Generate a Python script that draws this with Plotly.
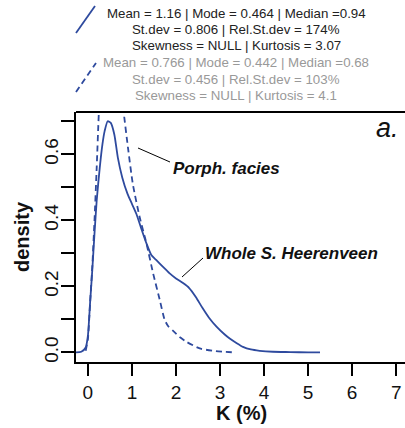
import plotly.graph_objects as go

# K (%) density curves
whole_x = [-0.28, -0.15, -0.05, 0.0, 0.05, 0.1, 0.15, 0.2, 0.27, 0.33, 0.38, 0.45, 0.52,
           0.6, 0.68, 0.78, 0.9, 1.0, 1.1, 1.2, 1.33, 1.44, 1.55, 1.7, 1.85, 2.0, 2.16,
           2.3, 2.45, 2.6, 2.75, 2.92, 3.1, 3.22, 3.38, 3.52, 3.7, 3.9, 4.2, 4.6, 5.0, 5.27]
whole_y = [0.0, 0.002, 0.015, 0.05, 0.15, 0.25, 0.36, 0.46, 0.56, 0.63, 0.67, 0.70, 0.695,
           0.66, 0.59, 0.53, 0.48, 0.45, 0.42, 0.38, 0.33, 0.295, 0.28, 0.26, 0.24, 0.224, 0.21,
           0.195, 0.168, 0.135, 0.105, 0.078, 0.055, 0.042, 0.028, 0.017, 0.009, 0.005, 0.002,
           0.001, 0.0, 0.0]

porph_x = [-0.05, 0.0, 0.05, 0.1, 0.15, 0.2, 0.25, 0.32, 0.44, 0.55, 0.68, 0.81, 0.91, 1.02,
           1.175, 1.33, 1.48, 1.63, 1.74, 1.82, 1.93, 2.1, 2.24, 2.54, 2.9, 3.33]
porph_y = [0.005, 0.04, 0.15, 0.26, 0.4, 0.56, 0.73, 0.9, 1.02, 1.0, 0.88, 0.73, 0.62, 0.51,
           0.41, 0.33, 0.24, 0.16, 0.1, 0.08, 0.066, 0.045, 0.032, 0.012, 0.004, 0.0]

whole_stats = ["Mean = 1.16 | Mode = 0.464 | Median =0.94",
               "St.dev = 0.806 | Rel.St.dev = 174%",
               "Skewness = NULL | Kurtosis = 3.07"]
porph_stats = ["Mean = 0.766 | Mode = 0.442 | Median =0.68",
               "St.dev = 0.456 | Rel.St.dev = 103%",
               "Skewness = NULL | Kurtosis = 4.1"]

x_ticks = [0, 1, 2, 3, 4, 5, 6, 7]
y_ticks = [0.0, 0.1, 0.2, 0.3, 0.4, 0.5, 0.6, 0.7]
y_labels = ["0.0", "", "0.2", "", "0.4", "", "0.6", ""]

BLUE = "#2E4A9E"
FONT = "Arial, Liberation Sans, Helvetica, sans-serif"

W, H = 405, 428
L, R, T, B = 76, 0, 112, 66


def px_x(p):
    return (p - L) / (W - L - R)


def px_y(p):
    return (H - B - p) / (H - T - B)


fig = go.Figure()
fig.add_trace(go.Scatter(x=whole_x, y=whole_y, mode="lines",
                         line=dict(color=BLUE, width=1.8, shape="spline", smoothing=0.6)))
fig.add_trace(go.Scatter(x=porph_x, y=porph_y, mode="lines",
                         line=dict(color=BLUE, width=1.8, shape="spline", smoothing=0.6,
                                   dash="6px,4px")))

fig.update_xaxes(range=[-0.27, 7.2], tickvals=x_ticks, ticks="outside", ticklen=12,
                 tickwidth=1.5, tickcolor="black", showline=True, linecolor="black",
                 linewidth=1.8, showgrid=False, zeroline=False,
                 tickfont=dict(family=FONT, size=19, color="#111"))
fig.update_yaxes(range=[-0.029, 0.728], tickvals=y_ticks, ticktext=y_labels,
                 ticks="outside", ticklen=13, tickwidth=1.5, tickcolor="black",
                 showline=True, linecolor="black", linewidth=1.8, showgrid=False,
                 zeroline=False, tickangle=-90, ticklabelstandoff=-4,
                 tickfont=dict(family=FONT, size=19, color="#111"))

shapes = [
    # top frame line
    dict(type="line", xref="paper", yref="paper", x0=0, x1=1, y0=1, y1=1,
         line=dict(color="black", width=1.8)),
    # legend keys
    dict(type="line", xref="paper", yref="paper", x0=px_x(76), y0=px_y(33),
         x1=px_x(95), y1=px_y(6), line=dict(color=BLUE, width=1.8)),
    dict(type="line", xref="paper", yref="paper", x0=px_x(76), y0=px_y(92),
         x1=px_x(96), y1=px_y(63), line=dict(color=BLUE, width=1.8, dash="6px,4px")),
    # leader lines
    dict(type="line", xref="paper", yref="paper", x0=px_x(138), y0=px_y(148),
         x1=px_x(170), y1=px_y(162), line=dict(color="black", width=1)),
    dict(type="line", xref="paper", yref="paper", x0=px_x(182), y0=px_y(277),
         x1=px_x(203), y1=px_y(258), line=dict(color="black", width=1)),
]

ann = []
for i, t in enumerate(whole_stats):
    ann.append(dict(text=t, xref="paper", yref="paper", x=px_x(236), y=px_y(13.5 + 16 * i),
                    showarrow=False, xanchor="center", yanchor="middle",
                    font=dict(family=FONT, size=13.3, color="#222")))
for i, t in enumerate(porph_stats):
    ann.append(dict(text=t, xref="paper", yref="paper", x=px_x(236), y=px_y(62 + 17 * i),
                    showarrow=False, xanchor="center", yanchor="middle",
                    font=dict(family=FONT, size=13.3, color="#999")))
ann += [
    dict(text="<b><i>Porph. facies</i></b>", xref="paper", yref="paper", x=px_x(171),
         y=px_y(168), xanchor="left", yanchor="middle", showarrow=False,
         font=dict(family=FONT, size=17, color="#111")),
    dict(text="<b><i>Whole S. Heerenveen</i></b>", xref="paper", yref="paper", x=px_x(203),
         y=px_y(253), xanchor="left", yanchor="middle", showarrow=False,
         font=dict(family=FONT, size=17, color="#111")),
    dict(text="<i>a.</i>", xref="paper", yref="paper", x=px_x(401), y=px_y(128),
         xanchor="right", yanchor="middle", showarrow=False,
         font=dict(family=FONT, size=27, color="#111")),
    dict(text="<b>density</b>", xref="paper", yref="paper", x=px_x(22), y=px_y(237),
         xanchor="center", yanchor="middle", showarrow=False, textangle=-90,
         font=dict(family=FONT, size=20, color="#111")),
    dict(text="<b>K (%)</b>", xref="paper", yref="paper", x=px_x(241), y=px_y(413),
         xanchor="center", yanchor="middle", showarrow=False,
         font=dict(family=FONT, size=20, color="#111")),
]

fig.update_layout(width=W, height=H, margin=dict(l=L, r=R, t=T, b=B),
                  plot_bgcolor="white", paper_bgcolor="white", showlegend=False,
                  shapes=shapes, annotations=ann)

# the page body has a default 8px margin; drop it so the figure sits at the window origin
fig.write_html("out.html", config={"displayModeBar": False},
               post_script="document.body.style.margin='0';document.body.style.overflow='hidden';")
